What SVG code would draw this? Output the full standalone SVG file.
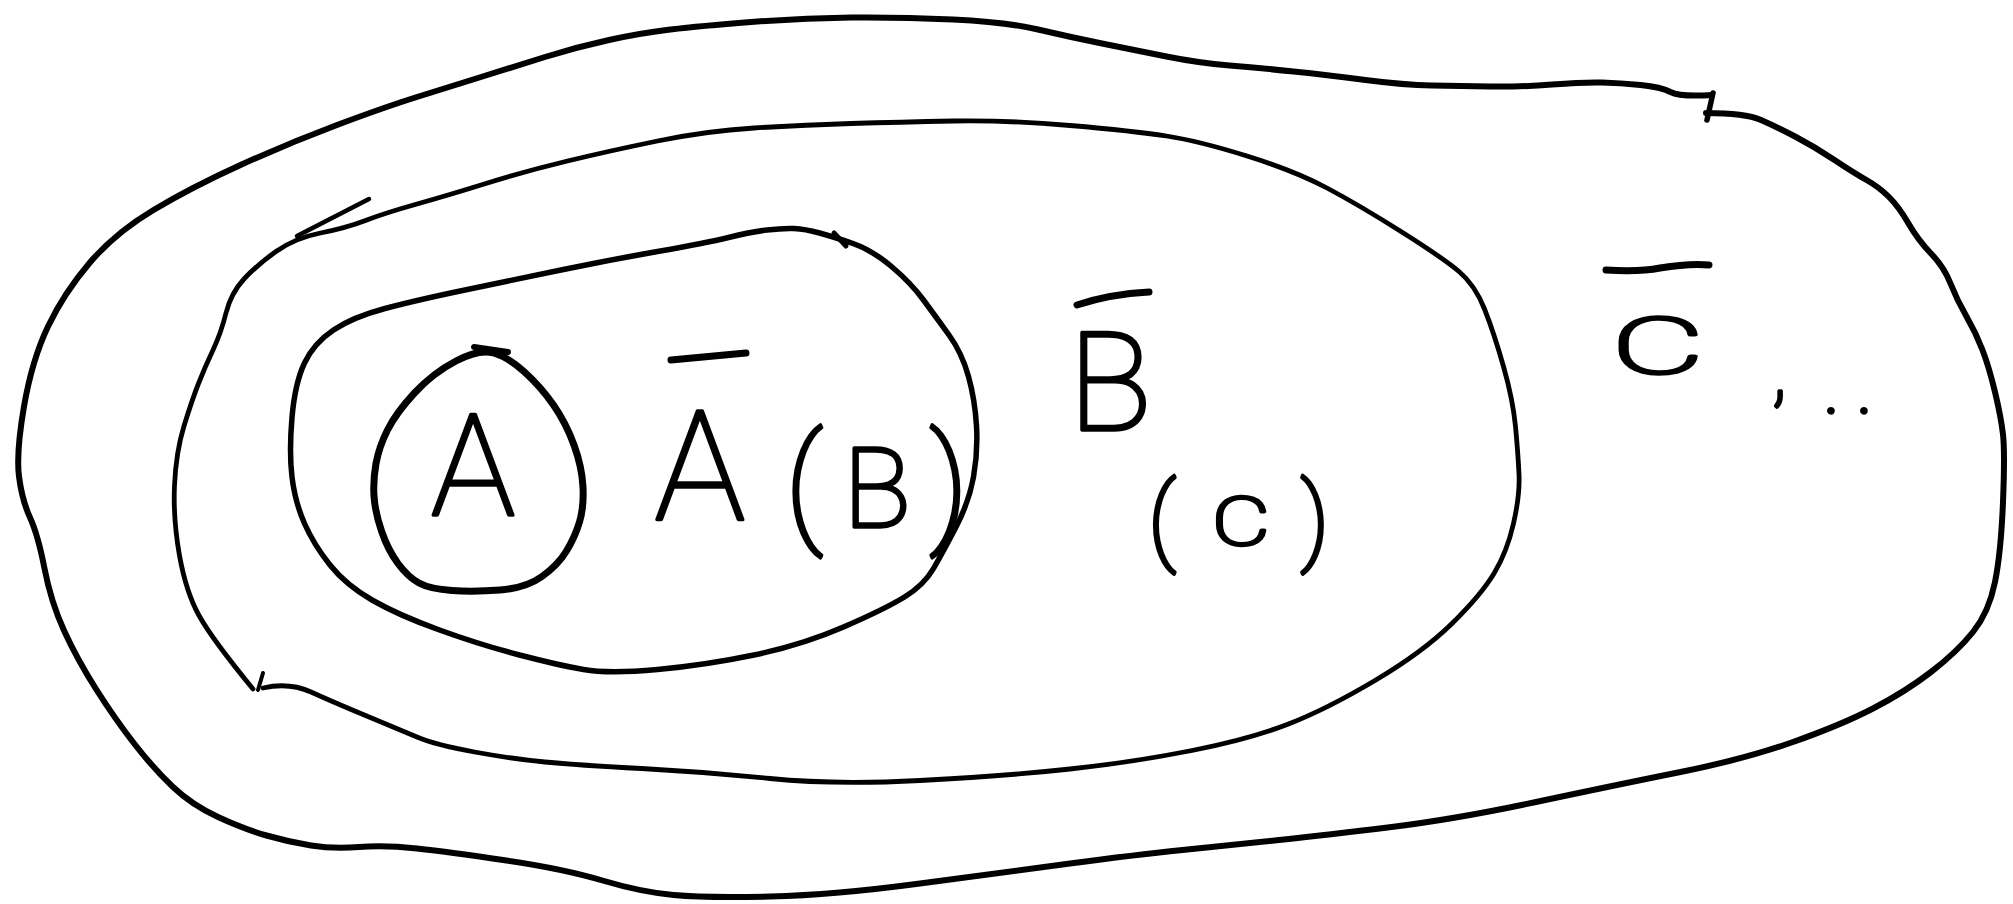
<svg xmlns="http://www.w3.org/2000/svg" width="2013" height="904" viewBox="0 0 2013 904">
<style>
.ln{fill:none;stroke:#000;stroke-linecap:round;stroke-linejoin:round}
.t{font-family:Roboto,"Liberation Sans",sans-serif;font-weight:100;fill:#000;stroke:#000;stroke-width:3.5;stroke-linejoin:round;text-anchor:middle}
.bar{fill:none;stroke:#000;stroke-width:7;stroke-linecap:round}
</style>
<rect width="2013" height="904" fill="#fff"/>
<g id="set-c-bar">
<path class="ln" stroke-width="6" d="M1712,95 Q1680,97 1670.5,92 Q1661,87 1640.5,85 Q1620,83 1602,82.5 Q1584,82 1552,84.5 Q1520,87 1490,86.5 Q1460,86 1432,85.5 Q1404,85 1365.5,80 Q1327,75 1293.5,71.5 Q1260,68 1229.5,65.5 Q1199,63 1166.5,56.5 Q1134,50 1102,43.5 Q1070,37 1038,29.5 Q1006,22 953,19.5 Q900,17 851,17.5 Q802,18 751,22 Q700,26 670.5,29.5 Q641,33 609,40 Q577,47 545,57 Q513,67 481,77 Q449,87 417,97 Q385,107 337,125 Q289,143 240.5,165 Q192,187 153.5,210 Q115,233 89.5,263 Q64,293 48,326.5 Q32,360 24,406.5 Q16,453 19,476.5 Q22,500 30,517.5 Q38,535 44.5,568.5 Q51,602 64,630.5 Q77,659 96,689 Q115,719 134.5,744 Q154,769 173,787 Q192,805 218,817 Q244,829 266.5,835.5 Q289,842 311,845.5 Q333,849 359,847 Q385,845 417,848.5 Q449,852 506.5,860.5 Q564,869 602.5,880.5 Q641,892 673.5,895 Q706,898 770,896.5 Q834,895 920,883.5 Q1006,872 1070,863.5 Q1134,855 1182.5,850 Q1231,845 1279,840 Q1327,835 1391.5,827 Q1456,819 1536,802 Q1616,785 1680.5,772 Q1745,759 1793,742 Q1841,725 1873,708.5 Q1905,692 1931,672 Q1957,652 1973,632 Q1989,612 1995,582 Q2001,552 2003,502 Q2005,452 2003,434.5 Q2001,417 1995,392 Q1989,367 1982.5,350 Q1976,333 1966.5,316.5 Q1957,300 1950.5,283.5 Q1944,267 1931,253.5 Q1918,240 1908.5,223.5 Q1899,207 1889,197 Q1879,187 1866.5,180 Q1854,173 1834.5,160 Q1815,147 1796,137 Q1777,127 1761,120 Q1745,113 1706,113"/>
<path class="ln" stroke-width="5.5" d="M1713,93 L1707,120"/>
</g>
<g id="set-b-bar">
<path class="ln" stroke-width="4.8" d="M253,689 Q212,639 199,615.5 Q186,592 179.5,555.5 Q173,519 174.5,485.5 Q176,452 184,426 Q192,400 198.5,383.5 Q205,367 213,350 Q221,333 226,313 Q231,293 244,279 Q257,265 276,251.5 Q295,238 320.5,233 Q346,228 365.5,220.5 Q385,213 417,204 Q449,195 487.5,183 Q526,171 567.5,161 Q609,151 657.5,141 Q706,131 754,128 Q802,125 851,123.5 Q900,122 953,121 Q1006,120 1070,125.5 Q1134,131 1166.5,136 Q1199,141 1247,156 Q1295,171 1327,188 Q1359,205 1401,231.5 Q1443,258 1459,271.5 Q1475,285 1484.5,309 Q1494,333 1503.5,366.5 Q1513,400 1515.5,426.5 Q1518,453 1519,474 Q1520,495 1513.5,523.5 Q1507,552 1494,573.5 Q1481,595 1452,623.5 Q1423,652 1375,680.5 Q1327,709 1288.5,724 Q1250,739 1192,750.5 Q1134,762 1070,769 Q1006,776 920,780.5 Q834,785 770,778.5 Q706,772 641.5,768.5 Q577,765 545,762 Q513,759 474.5,752 Q436,745 417,737 Q398,729 365.5,715.5 Q333,702 311,692 Q289,682 263,688"/>
<path class="ln" stroke-width="4.5" d="M369,199 L297,236"/>
<path class="ln" stroke-width="4" d="M263,673 L258,690"/>
</g>
<g id="set-a-bar">
<path class="ln" stroke-width="5.5" d="M794,228.5 Q783,228 767,230 Q751,232 728.5,237.5 Q706,243 657.5,251.5 Q609,260 561,270 Q513,280 465,290 Q417,300 385,308.5 Q353,317 333.5,330 Q314,343 304.5,363 Q295,383 292,417.5 Q289,452 292,477 Q295,502 304.5,523.5 Q314,545 330,565 Q346,585 372,600 Q398,615 439.5,630 Q481,645 519.5,655 Q558,665 583.5,669.5 Q609,674 657.5,669.5 Q706,665 754,655 Q802,645 843.5,627 Q885,609 904.5,597 Q924,585 933.5,568.5 Q943,552 956,527 Q969,502 973.5,477 Q978,452 976.5,426 Q975,400 968.5,376.5 Q962,353 949,335 Q936,317 923.5,300 Q911,283 891.5,266.5 Q872,250 853,243.5 Q834,237 819.5,233 Q805,229 794,228.5 Z"/>
<path class="ln" stroke-width="5" d="M834,233 L846,246"/>
</g>
<g id="set-a">
<path class="ln" stroke-width="7" d="M456,361 Q479,349 493.5,353 Q508,357 524.5,372 Q541,387 553.5,405 Q566,423 574,445 Q582,467 583,487 Q584,507 579.5,522 Q575,537 566.5,551 Q558,565 542,576.5 Q526,588 500,590 Q474,592 452,590.5 Q430,589 419,583 Q408,577 398,563.5 Q388,550 381.5,531 Q375,512 374,496 Q373,480 376,463.5 Q379,447 387.5,430 Q396,413 414.5,393 Q433,373 456,361 Z"/>
<path class="ln" stroke-width="6" d="M474,347 L508,352"/>
</g>
<g id="labels">
<text class="t" x="473" y="515" font-size="141">A</text>
<g id="label-a-bar">
<line class="bar" x1="671" y1="360" x2="746" y2="353"/>
<text class="t" x="700" y="519" font-size="152">A</text>
</g>
<text class="t" y="528" font-size="130"><tspan x="804">(</tspan><tspan x="877" y="527" font-size="112">B</tspan><tspan x="949" y="528" font-size="130">)</tspan></text>
<g id="label-b-bar">
<path class="bar" d="M1077,305 Q1110,294 1149,292"/>
<text class="t" x="1110" y="430" font-size="138">B</text>
</g>
<text class="t" y="552" font-size="96"><tspan x="1162">(</tspan><tspan x="1241" y="545" font-size="66" textLength="58" lengthAdjust="spacingAndGlyphs">C</tspan><tspan x="1315" y="552" font-size="96">)</tspan></text>
<g id="label-c-bar">
<path class="bar" d="M1606,270 Q1640,272 1660,268 Q1690,263 1709,265"/>
<text class="t" x="1658" y="373" font-size="77" stroke-width="4.5" transform="translate(1658,0) scale(1.85,1) translate(-1658,0)">C</text>
</g>
<text class="t" style="text-anchor:start" x="1772 1823 1856" y="397 413 413" font-size="80">,..</text>
</g>
</svg>
